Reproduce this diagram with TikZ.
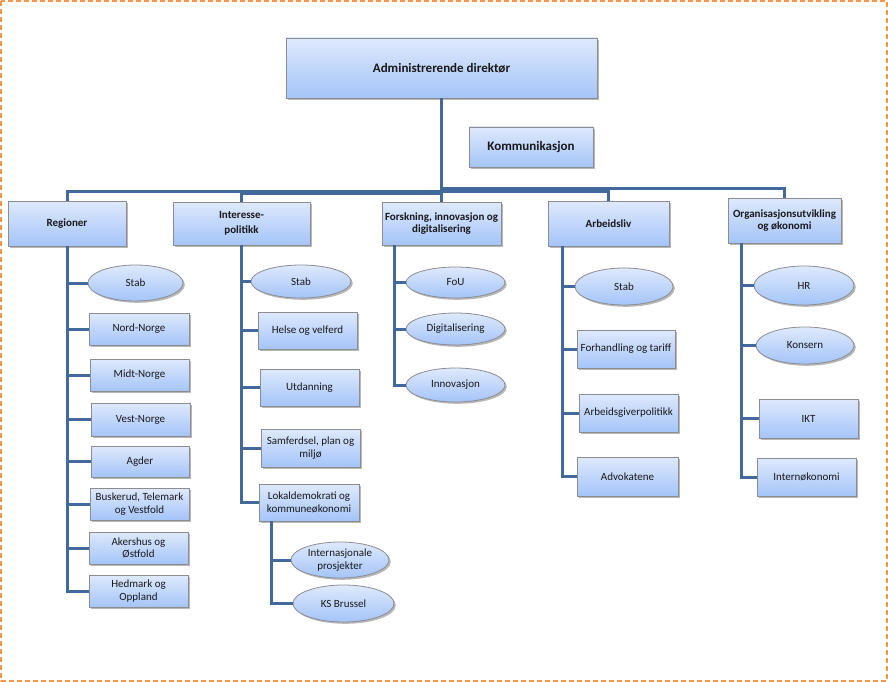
\documentclass[tikz,border=0pt]{standalone}
\usepackage{fontspec}
\setmainfont{Carlito}
\usetikzlibrary{shapes.geometric,shadows}
\definecolor{conncol}{RGB}{65,105,155}
\definecolor{boxtop}{RGB}{222,233,252}
\definecolor{boxbot}{RGB}{164,196,249}
\definecolor{boxedge}{RGB}{140,140,145}
\definecolor{frameorange}{RGB}{247,150,70}
\tikzset{
  base/.style={draw=boxedge, line width=0.8pt, top color=boxtop, bottom color=boxbot,
    drop shadow={shadow xshift=1.8pt, shadow yshift=-1.8pt, fill=black, opacity=0.28},
    align=center, inner sep=1pt, text=black!90},
  bigbox/.style={base, rectangle, font=\fontsize{13}{15}\selectfont\bfseries},
  headbox/.style={base, rectangle, font=\fontsize{11}{12.5}\selectfont\bfseries},
  subbox/.style={base, rectangle, font=\fontsize{11}{12.7}\selectfont},
  subell/.style={base, ellipse, inner sep=0pt, font=\fontsize{11}{12.7}\selectfont},
  conn/.style={draw=conncol, line width=3pt},
}
\begin{document}
\begin{tikzpicture}[x=1pt,y=-1pt]
\useasboundingbox (0,0) rectangle (888,682);
\draw[frameorange, line width=1.5pt, dash pattern=on 5pt off 3pt] (1,1) rectangle (887,681);

% top
\node[bigbox, minimum width=311, minimum height=60] (root) at (441.5,68) {Administrerende direktør};
\node[bigbox, minimum width=124, minimum height=40] (komm) at (531,147) {Kommunikasjon};

% branch heads
\node[headbox, minimum width=118, minimum height=45] (reg) at (67,223.5) {Regioner};
\node[headbox, minimum width=137, minimum height=43] (int) at (241.5,223.5) {Interesse-\\[3pt]politikk};
\node[headbox, minimum width=119, minimum height=43] (fo) at (441.5,223.5) {Forskning, innovasjon og\\digitalisering};
\node[headbox, minimum width=121, minimum height=45] (arb) at (608.5,223.5) {Arbeidsliv};
\node[headbox, minimum width=113, minimum height=45] (org) at (784.5,220.5) {Organisasjonsutvikling\\og økonomi};

% Regioner
\node[subell, minimum width=95, minimum height=36] (r1) at (135.5,283) {Stab};
\node[subbox, minimum width=100, minimum height=32] (r2) at (139,329) {Nord-Norge};
\node[subbox, minimum width=99, minimum height=32] (r3) at (139.5,375) {Midt-Norge};
\node[subbox, minimum width=99, minimum height=33] (r4) at (140.5,419.5) {Vest-Norge};
\node[subbox, minimum width=98, minimum height=31] (r5) at (140,461.5) {Agder};
\node[subbox, minimum width=99, minimum height=32] (r6) at (139.5,504) {Buskerud, Telemark\\og Vestfold};
\node[subbox, minimum width=99, minimum height=32] (r7) at (138.5,548) {Akershus og\\Østfold};
\node[subbox, minimum width=99, minimum height=32] (r8) at (138.5,591) {Hedmark og\\Oppland};

% Interessepolitikk
\node[subell, minimum width=100, minimum height=33] (i1) at (301,281.5) {Stab};
\node[subbox, minimum width=99, minimum height=37] (i2) at (307.5,330.5) {Helse og velferd};
\node[subbox, minimum width=99, minimum height=37] (i3) at (309.5,387.5) {Utdanning};
\node[subbox, minimum width=99, minimum height=38] (i4) at (310.5,448) {Samferdsel, plan og\\miljø};
\node[subbox, minimum width=100, minimum height=37] (i5) at (309,502.5) {Lokaldemokrati og\\kommuneøkonomi};
\node[subell, minimum width=98, minimum height=36] (i6) at (340,560) {Internasjonale\\prosjekter};
\node[subell, minimum width=101, minimum height=37] (i7) at (343.5,603.5) {KS Brussel};

% Forskning
\node[subell, minimum width=99, minimum height=31] (f1) at (455.5,282.5) {FoU};
\node[subell, minimum width=99, minimum height=32] (f2) at (455.5,329) {Digitalisering};
\node[subell, minimum width=99, minimum height=34] (f3) at (455.5,385) {Innovasjon};

% Arbeidsliv
\node[subell, minimum width=98, minimum height=37] (a1) at (624,286.5) {Stab};
\node[subbox, minimum width=98, minimum height=38] (a2) at (626,349) {Forhandling og tariff};
\node[subbox, minimum width=99, minimum height=38] (a3) at (628.5,413) {Arbeidsgiverpolitikk};
\node[subbox, minimum width=101, minimum height=39] (a4) at (627.5,476.5) {Advokatene};

% Organisasjon
\node[subell, minimum width=100, minimum height=39] (o1) at (804,285.5) {HR};
\node[subell, minimum width=98, minimum height=37] (o2) at (805,345.5) {Konsern};
\node[subbox, minimum width=99, minimum height=39] (o3) at (808.5,418.5) {IKT};
\node[subbox, minimum width=99, minimum height=38] (o4) at (806.5,477) {Internøkonomi};

% top connectors
\draw[conn] (root.south) -- (root.south |- 0,191) -| (reg.north);
\draw[conn] (root.south) -- (root.south |- 0,193) -| (int.north);
\draw[conn] (root.south) -- (fo.north);
\draw[conn] (root.south) -- (root.south |- 0,191) -| (arb.north);
\draw[conn] (root.south) -- (root.south |- 0,188) -| (org.north);

% Regioner
\foreach \c in {r1,r2,r3,r4,r5,r6,r7,r8} \draw[conn] (reg.south) |- (\c.west);
% Interessepolitikk
\foreach \c in {i1,i2,i3,i4,i5} \draw[conn] (int.south) |- (\c.west);
\foreach \c in {i6,i7} \draw[conn] ([xshift=-38pt]i5.south) |- (\c.west);
% Forskning
\foreach \c in {f1,f2,f3} \draw[conn] ([xshift=-47.5pt]fo.south) |- (\c.west);
% Arbeidsliv
\foreach \c in {a1,a2,a3,a4} \draw[conn] ([xshift=-46.5pt]arb.south) |- (\c.west);
% Organisasjon
\foreach \c in {o1,o2,o3,o4} \draw[conn] ([xshift=-43.5pt]org.south) |- (\c.west);
\end{tikzpicture}
\end{document}
